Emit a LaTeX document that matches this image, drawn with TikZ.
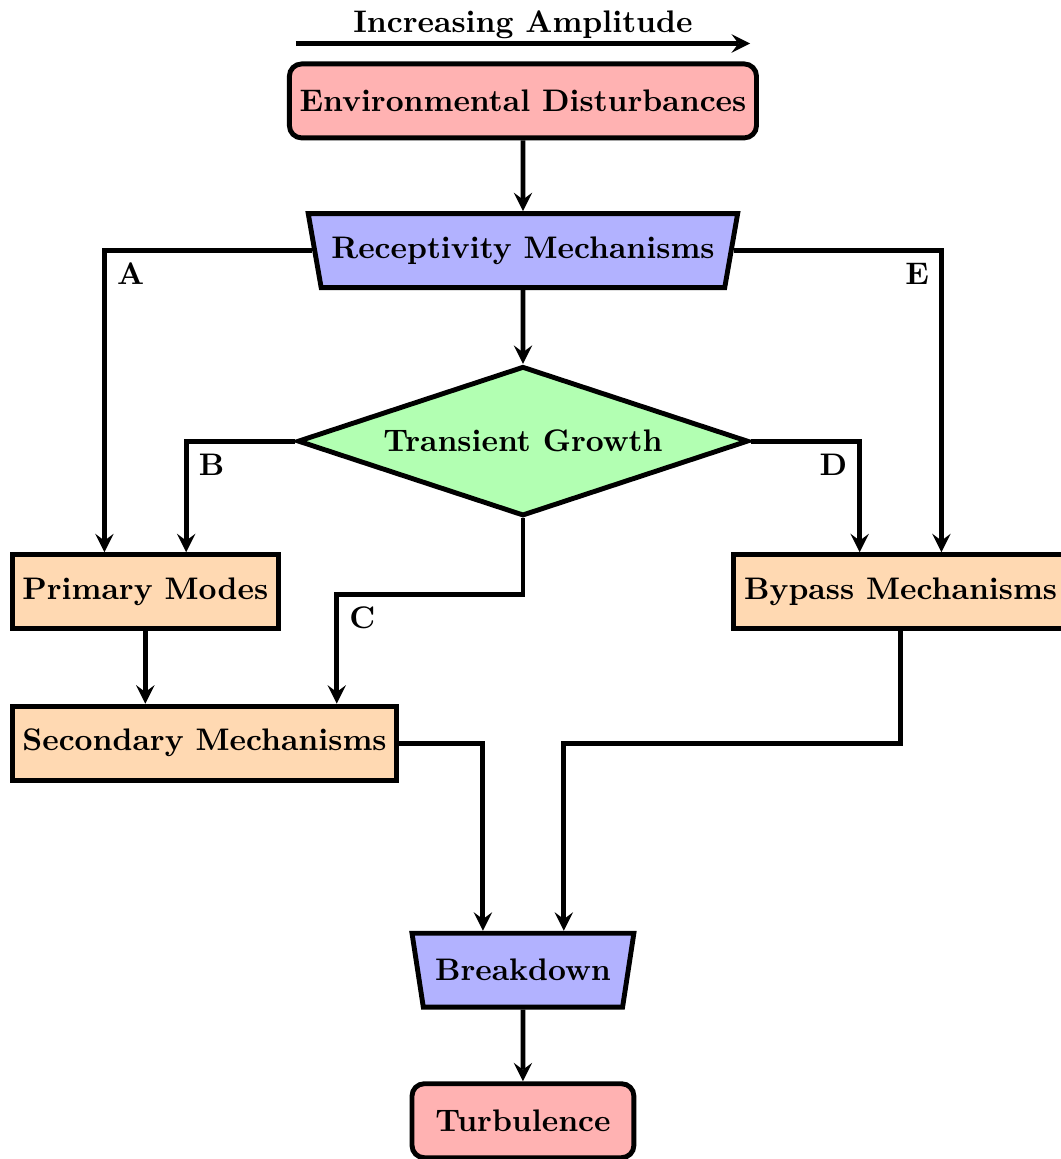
\documentclass[tikz,border=0pt]{standalone}
\usepackage{xcolor}
\usepackage{tikz}
\usetikzlibrary{shapes.geometric}

\begin{document}
\begin{tikzpicture}[
    flow/.style={-stealth, ultra thick},
    box/.style={rectangle, draw, ultra thick, fill=orange!30, minimum width=2.55cm, minimum height=0.85cm, font=\fontsize{10.2}{12}\selectfont\bfseries},
    endbox/.style={box, rounded corners, fill=red!30},
    trap/.style={box, trapezium, trapezium left angle=75, trapezium right angle=75, trapezium stretches body, shape border rotate=180, fill=blue!30},
    decide/.style={box, diamond, aspect=3, minimum width=5.18cm, minimum height=1.72cm, fill=green!30},
    lbl/.style={font=\fontsize{10.2}{12}\selectfont\bfseries}
  ]
  \useasboundingbox (-6.01,1.16) rectangle (6.18,-12.16);
  \node[endbox] (env) at (0,0) {Environmental Disturbances};
  \node[trap] (rec) at (0,-1.72) {Receptivity Mechanisms};
  \node[decide] (tg) at (0,-3.91) {Transient Growth};
  \node[box] (pm) at (-4.34,-5.64) {Primary Modes};
  \node[box] (bp) at (4.34,-5.64) {Bypass Mechanisms};
  \node[box, anchor=west] (sm) at (pm.west |- 0,-7.38) {Secondary Mechanisms};
  \node[trap] (bd) at (0,-9.99) {Breakdown};
  \node[endbox] (turb) at (0,-11.72) {Turbulence};
  \coordinate (ampL) at (-2.61,0.66);
  \coordinate (ampR) at (2.61,0.66);
  \draw[flow] (ampL) -- node[lbl, above, inner sep=0.7pt] {Increasing Amplitude} (ampR);
  \draw[flow] (env) -- (rec);
  \draw[flow] (rec) -- (tg);
  \draw[flow] (rec.west) -| node[lbl, below right] {A} ([xshift=-0.47cm]pm.north);
  \draw[flow] (rec.east) -| node[lbl, below left] {E} ([xshift=0.47cm]bp.north);
  \draw[flow] (tg.west) -| node[lbl, below right] {B} ([xshift=0.47cm]pm.north);
  \draw[flow] (tg.east) -| node[lbl, below left] {D} ([xshift=-0.47cm]bp.north);
  \draw[flow] (tg.south) -- ++(0,-0.87) -| node[lbl, below right] {C} ([xshift=1.52cm]sm.north);
  \draw[flow] (pm.south) -- (pm.south |- sm.north);
  \draw[flow] (sm.east) -| ([xshift=-0.46cm]bd.north);
  \draw[flow] (bp.south) -- (bp.south |- sm.east) -| ([xshift=0.47cm]bd.north);
  \draw[flow] (bd) -- (turb);
\end{tikzpicture}
\end{document}
